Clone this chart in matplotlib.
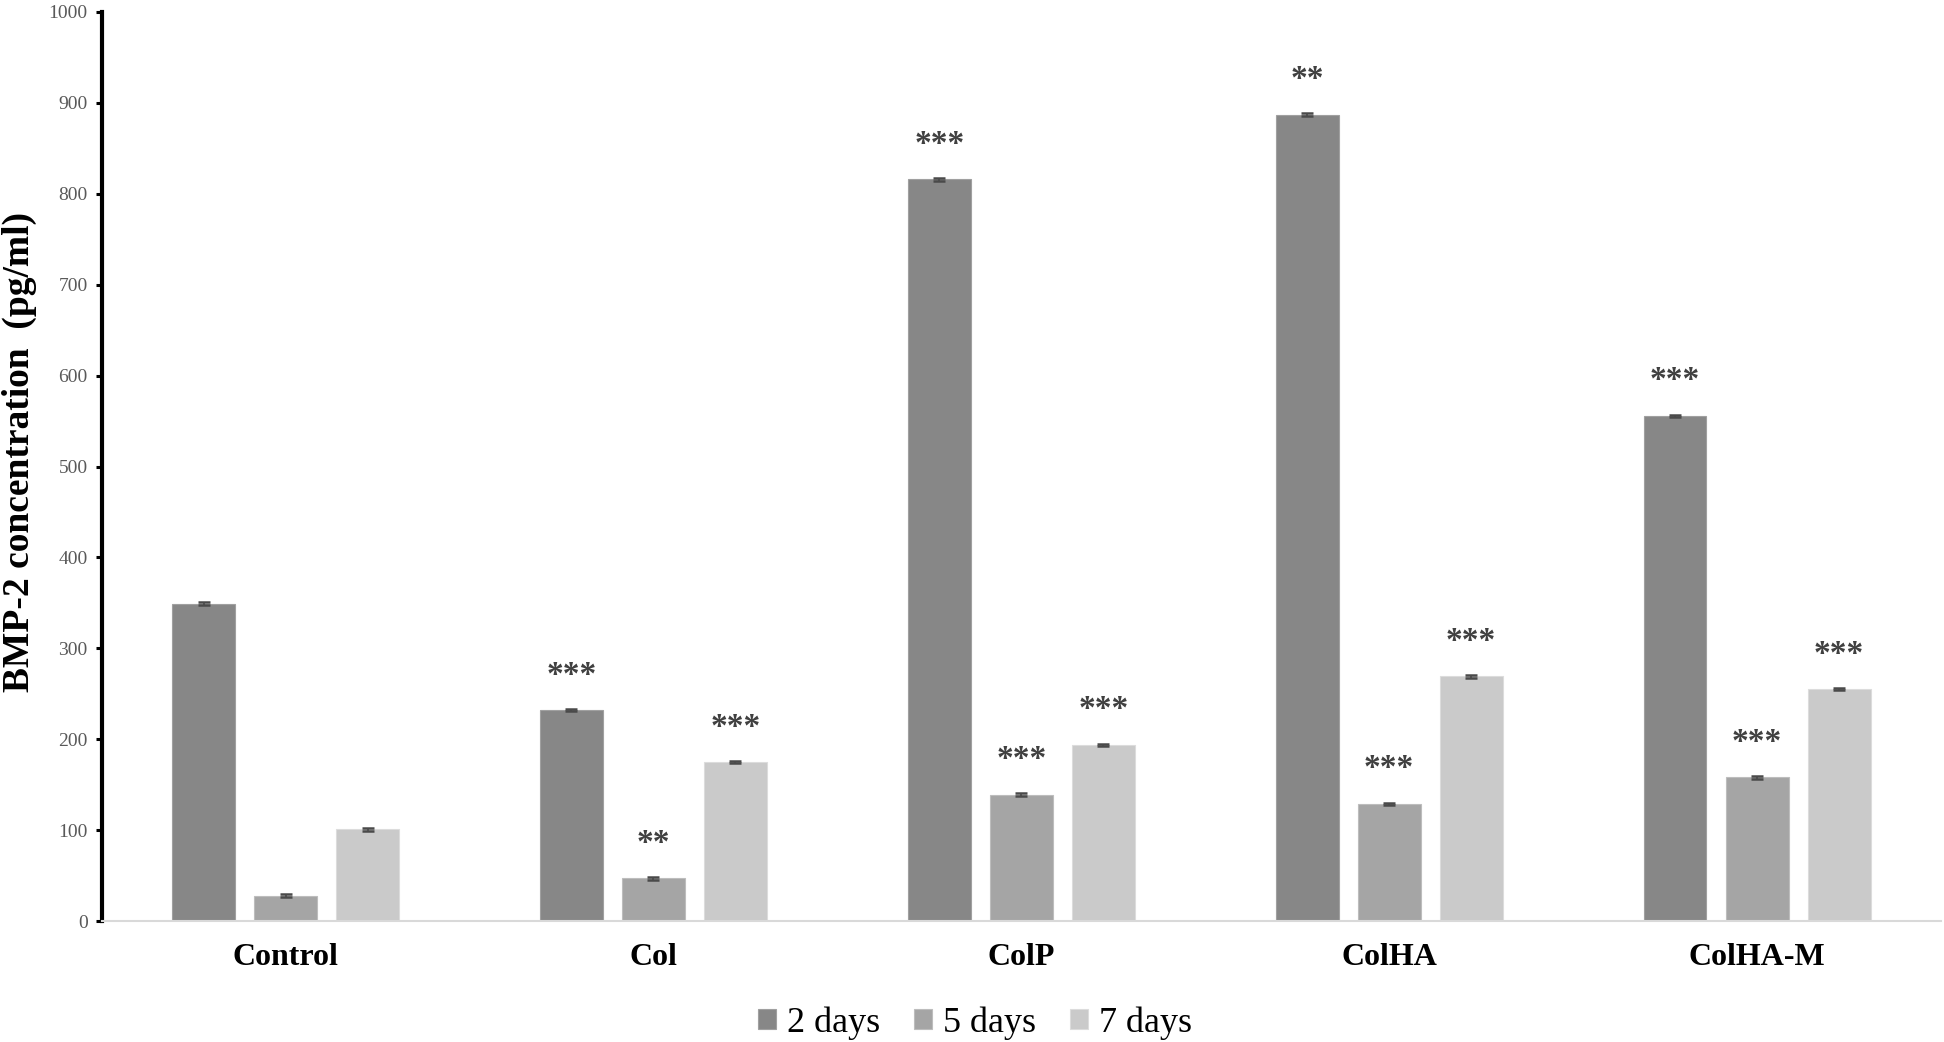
import matplotlib
matplotlib.use("Agg")
import matplotlib.pyplot as plt
import numpy as np

categories = ["Control", "Col", "ColP", "ColHA", "ColHA-M"]
series_names = ["2 days", "5 days", "7 days"]
values_2d = [349, 232, 816, 887, 556]
values_5d = [28, 47, 139, 129, 158]
values_7d = [101, 175, 194, 269, 255]
errors_2d = [1.5, 1.0, 1.5, 1.5, 1.0]
errors_5d = [1.5, 1.5, 1.5, 1.0, 1.5]
errors_7d = [1.5, 1.5, 1.0, 1.5, 1.0]
stars_2d = ["", "***", "***", "**", "***"]
stars_5d = ["", "**", "***", "***", "***"]
stars_7d = ["", "***", "***", "***", "***"]
yticks = [0, 100, 200, 300, 400, 500, 600, 700, 800, 900, 1000]

colors = ["#878787", "#a5a5a5", "#cacaca"]
edges = ["#a0a0a0", "#bdbdbd", "#dcdcdc"]

W, H = 1944, 1042
fig = plt.figure(figsize=(W / 100, H / 100), dpi=100)
ax = fig.add_axes([101.6 / W, 1 - 921 / H, (1941 - 101.6) / W, (921 - 12) / H])

serif = ["Liberation Serif", "DejaVu Serif"]
x = np.arange(len(categories))
width = 0.171
pitch = 0.223
all_vals = [values_2d, values_5d, values_7d]
all_err = [errors_2d, errors_5d, errors_7d]
all_stars = [stars_2d, stars_5d, stars_7d]
for i, (vals, errs, stars) in enumerate(zip(all_vals, all_err, all_stars)):
    pos = x + (i - 1) * pitch
    ax.bar(pos, vals, width, color=colors[i], edgecolor=edges[i], linewidth=0.8,
           label=series_names[i], zorder=2)
    ax.errorbar(pos, vals, yerr=errs, fmt="none", ecolor="#4a4a4a",
                elinewidth=1.2, capsize=4.3, capthick=1.8, zorder=3)
    for p, v, s in zip(pos, vals, stars):
        if s:
            ax.text(p, v + 29, s, ha="center", va="baseline", fontsize=24,
                    fontweight="bold", family=serif, color="#404040")

ax.set_xlim(-0.5, 4.5)
ax.set_ylim(0, 1000)
ax.set_yticks(yticks)
ax.set_yticklabels([str(t) for t in yticks], family=serif, fontsize=14, color="#595959")
ax.set_xticks(x)
ax.set_xticklabels(categories, family=serif, fontsize=23, fontweight="bold", color="black")
ax.tick_params(axis="x", length=0, pad=16)
ax.tick_params(axis="y", length=4, width=2.2, color="black", pad=6, direction="out")

for s in ["top", "right"]:
    ax.spines[s].set_visible(False)
ax.spines["left"].set_linewidth(3.0)
ax.spines["left"].set_color("black")
ax.spines["bottom"].set_linewidth(1.5)
ax.spines["bottom"].set_color("#d9d9d9")

fig.text(19 / W, 1 - 452 / H, "BMP-2 concentration  (pg/ml)", rotation=90,
         ha="center", va="center", family=serif, fontsize=27, fontweight="bold")

leg = fig.legend(loc="center", bbox_to_anchor=(975 / W, 1 - 1023 / H), ncol=3,
                 frameon=False, prop={"family": serif, "size": 26},
                 handlelength=0.5, handleheight=0.5, handletextpad=0.3,
                 columnspacing=0.95)

fig.savefig("out.png", dpi=100)
